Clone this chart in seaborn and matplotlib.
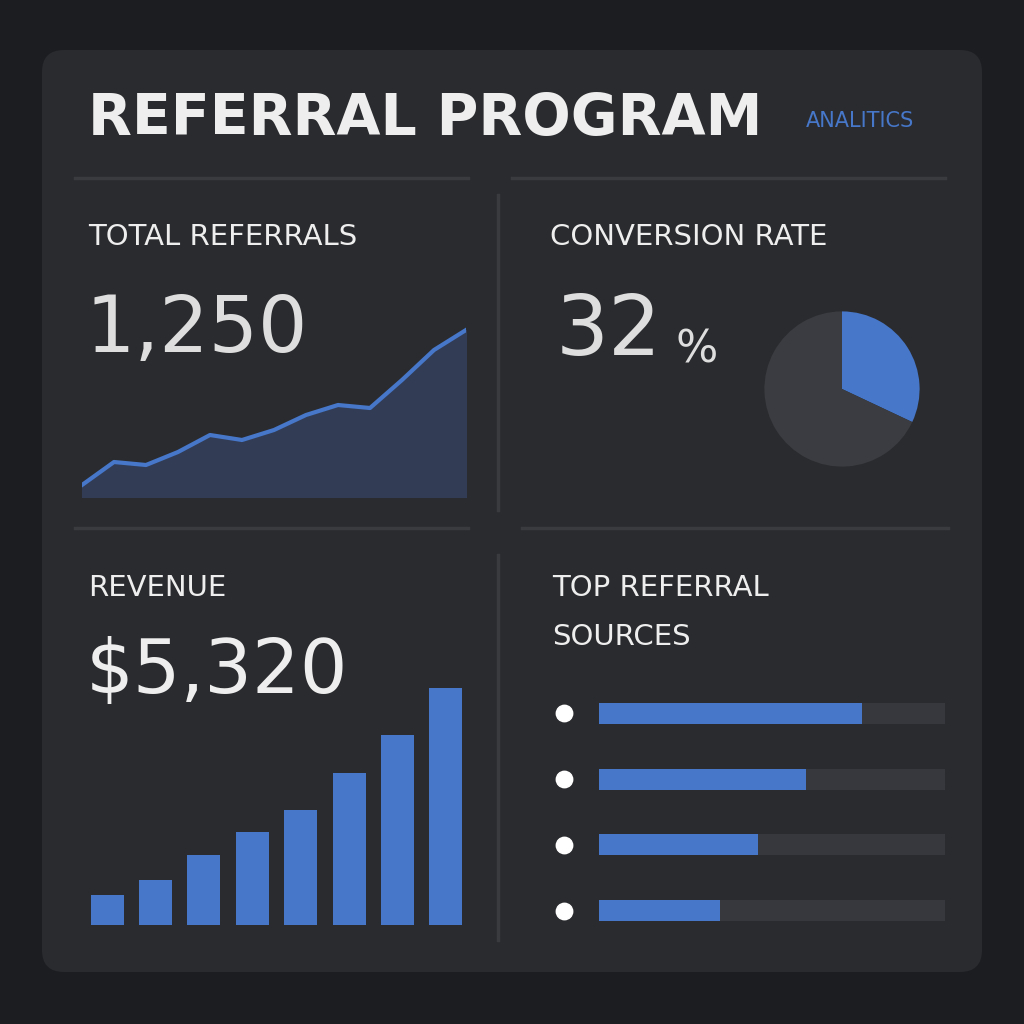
import matplotlib
matplotlib.use("Agg")
import matplotlib.pyplot as plt
import seaborn as sns
import pandas as pd
from matplotlib.patches import FancyBboxPatch

# data
trend_idx = list(range(13))
trend_vals = [12, 35, 32, 45, 62, 57, 67, 82, 92, 89, 117, 147, 167]
conversion_pct = 32
revenue_months = ["M1", "M2", "M3", "M4", "M5", "M6", "M7", "M8"]
revenue_vals = [30, 45, 70, 93, 115, 152, 190, 237]
source_names = ["Source A", "Source B", "Source C", "Source D"]
source_share = [0.76, 0.60, 0.46, 0.35]

BG = "#1c1d20"
CARD = "#2a2b2e"
BLUE = "#4677c9"
TRACK = "#36383d"
WHITE = "#eeeeee"
FONT = "DejaVu Sans"
W = H = 1024

fig = plt.figure(figsize=(10.24, 10.24), dpi=100, facecolor=BG)


def rect(x0, y0, x1, y1):
    return [x0 / W, 1 - y1 / H, (x1 - x0) / W, (y1 - y0) / H]


def txt(x, y, s, size, color=WHITE, weight="normal"):
    fig.text(x / W, 1 - y / H, s, fontsize=size, color=color, family=FONT,
             weight=weight, va="center", ha="left")


bg = fig.add_axes([0, 0, 1, 1])
bg.set_xlim(0, W)
bg.set_ylim(H, 0)
bg.axis("off")
bg.add_patch(FancyBboxPatch((42, 50), 940, 922, boxstyle="round,pad=0,rounding_size=22",
                            fc=CARD, ec="none"))
for x0, x1, y in [(75, 468, 178), (512, 945, 178), (75, 468, 528), (522, 948, 528)]:
    bg.plot([x0, x1], [y, y], color="#3a3b3f", lw=2.5)
for y0, y1 in [(195, 510), (555, 940)]:
    bg.plot([498, 498], [y0, y1], color="#3a3b3f", lw=2.5)

txt(88, 120, "REFERRAL PROGRAM", 41, weight="semibold")
txt(806, 121, "ANALITICS", 15, color=BLUE)

# panel 1
txt(88, 237, "TOTAL REFERRALS", 21)
txt(86, 330, "1,250", 56, color="#dedede")
ax1 = fig.add_axes(rect(82, 320, 466, 497))
df1 = pd.DataFrame({"i": trend_idx, "v": trend_vals})
ax1.fill_between(df1["i"], df1["v"], color="#323c55")
sns.lineplot(data=df1, x="i", y="v", ax=ax1, color=BLUE, lw=3)
ax1.set_xlim(0, 12)
ax1.set_ylim(0, 177)
ax1.axis("off")

# panel 2
txt(550, 237, "CONVERSION RATE", 21)
txt(556, 332, "32", 60, color="#dedede")
txt(676, 350, "%", 32, color="#dedede")
ax2 = fig.add_axes(rect(745, 292, 939, 486))
ax2.pie([conversion_pct, 100 - conversion_pct], colors=[BLUE, "#3a3c41"],
        startangle=90, counterclock=False, radius=1.0)
ax2.set_aspect("equal")

# panel 3
txt(88, 588, "REVENUE", 21)
txt(86, 672, "$5,320", 54)
ax3 = fig.add_axes(rect(83, 660, 470, 925))
df3 = pd.DataFrame({"m": revenue_months, "v": revenue_vals})
sns.barplot(data=df3, x="m", y="v", ax=ax3, color=BLUE, width=0.68, saturation=1)
ax3.set_ylim(0, 265)
ax3.axis("off")

# panel 4
txt(552, 588, "TOP REFERRAL", 21)
txt(552, 637, "SOURCES", 21)
ax4 = fig.add_axes(rect(550, 692, 945, 932))
df4 = pd.DataFrame({"s": source_names, "v": source_share})
sns.barplot(data=df4, y="s", x=[1] * 4, ax=ax4, color=TRACK, width=0.32, saturation=1)
sns.barplot(data=df4, y="s", x="v", ax=ax4, color=BLUE, width=0.32, saturation=1)
ax4.scatter([-0.1] * 4, range(4), color="white", s=140, zorder=5)
ax4.set_xlim(-0.14, 1.0)
ax4.axis("off")

fig.savefig("out.png", dpi=100, facecolor=BG)
